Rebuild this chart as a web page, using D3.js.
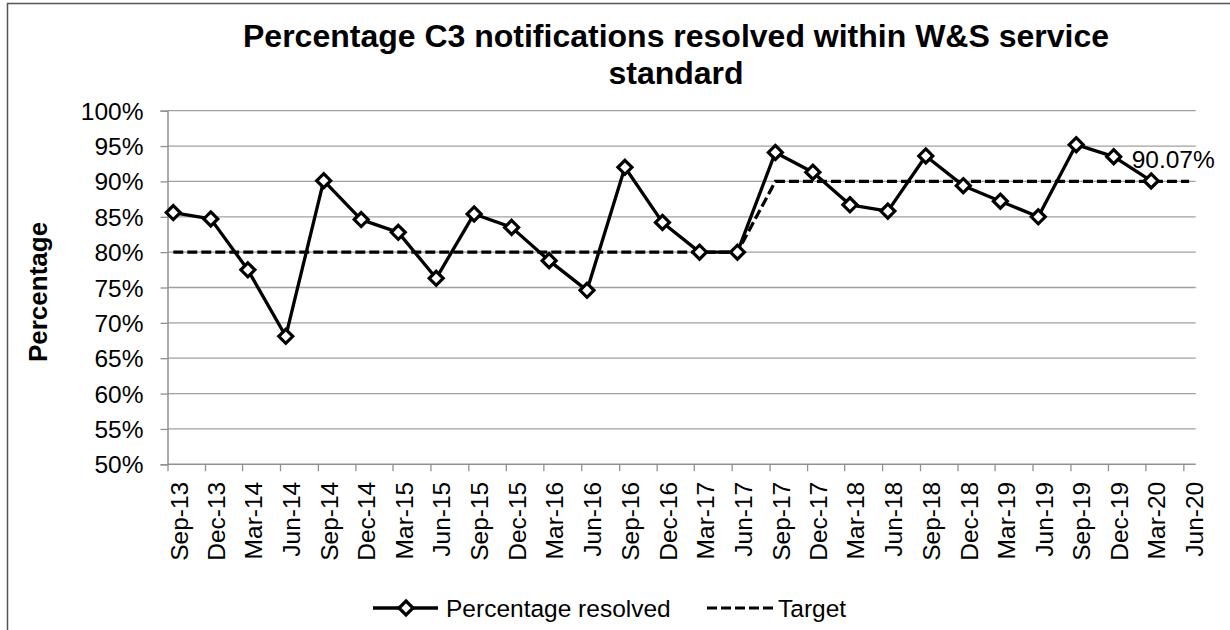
<!DOCTYPE html>
<html>
<head>
<meta charset="utf-8">
<script src="https://cdn.jsdelivr.net/npm/d3@7"></script>
<style>
  body { margin: 0; background: #fff; }
  svg { display: block; font-family: "Liberation Sans", Arial, sans-serif; }
</style>
</head>
<body>
<div id="chart"></div>
<script>
// quarter labels on the x axis
const categories = ["Sep-13","Dec-13","Mar-14","Jun-14","Sep-14","Dec-14","Mar-15","Jun-15",
  "Sep-15","Dec-15","Mar-16","Jun-16","Sep-16","Dec-16","Mar-17","Jun-17","Sep-17","Dec-17",
  "Mar-18","Jun-18","Sep-18","Dec-18","Mar-19","Jun-19","Sep-19","Dec-19","Mar-20","Jun-20"];
// percentage resolved (no value yet for Jun-20)
const resolved = [85.6, 84.7, 77.5, 68.1, 90.1, 84.6, 82.8, 76.3, 85.4, 83.5, 78.8, 74.6, 92.0, 84.2,
  80.0, 80.0, 94.1, 91.3, 86.7, 85.8, 93.6, 89.4, 87.2, 85.0, 95.2, 93.5, 90.07];
const target = [80, 80, 80, 80, 80, 80, 80, 80, 80, 80, 80, 80, 80, 80, 80, 80,
  90, 90, 90, 90, 90, 90, 90, 90, 90, 90, 90, 90];
const yTicks = [50, 55, 60, 65, 70, 75, 80, 85, 90, 95, 100];

const width = 1230, height = 630;
const svg = d3.select("#chart").append("svg")
  .attr("width", width).attr("height", height);

// outer chart border (only left and top edges are inside the picture)
svg.append("rect")
  .attr("x", 7.5).attr("y", 3.5).attr("width", 1400).attr("height", 800)
  .attr("fill", "none").attr("stroke", "#555").attr("stroke-width", 1.5);

const parse = d3.timeParse("%b-%y");
const tickDates = categories.map(parse);
// points sit mid-month, like the source
const pointDates = tickDates.map(d => d3.timeDay.offset(d, 14));

const x = d3.scaleTime()
  .domain([tickDates[0], d3.timeMonth.offset(tickDates[tickDates.length - 1], 1)])
  .range([167.5, 1195.7]);
const y = d3.scaleLinear().domain([50, 100]).range([464.3, 110.7]);

const fontSize = 24.5;

// gridlines
svg.append("g")
  .selectAll("line")
  .data(yTicks.slice(1))
  .join("line")
  .attr("x1", x.range()[0]).attr("x2", x.range()[1])
  .attr("y1", d => y(d)).attr("y2", d => y(d))
  .attr("stroke", "#a0a0a0").attr("stroke-width", 1.3);

// y axis
const yAxis = svg.append("g")
  .attr("transform", `translate(${x.range()[0]},0)`)
  .call(d3.axisLeft(y).tickValues(yTicks).tickSize(7).tickPadding(17)
    .tickFormat(d => d + "%"));
yAxis.select(".domain").attr("stroke", "#909090").attr("stroke-width", 1.5);
yAxis.selectAll(".tick line").attr("stroke", "#909090").attr("stroke-width", 1.3);
yAxis.selectAll(".tick text")
  .attr("font-size", fontSize).attr("fill", "#000")
  .attr("font-family", "Liberation Sans, Arial, sans-serif")
  .attr("dy", "0.35em");

// x axis
const xAxis = svg.append("g")
  .attr("transform", `translate(0,${y.range()[0]})`)
  .call(d3.axisBottom(x).tickValues(tickDates).tickSize(7)
    .tickFormat((d, i) => categories[i]));
xAxis.select(".domain").attr("stroke", "#909090").attr("stroke-width", 1.5)
  .attr("d", `M${x.range()[0]},0H${x.range()[1]}`);
xAxis.selectAll(".tick line").attr("stroke", "#909090").attr("stroke-width", 1.3);
xAxis.selectAll(".tick text")
  .attr("font-size", fontSize).attr("fill", "#000")
  .attr("font-family", "Liberation Sans, Arial, sans-serif")
  .attr("text-anchor", "end")
  .attr("dy", null)
  .attr("y", 0)
  .attr("transform", "translate(19.5,17.5) rotate(-90)");

// target line (dashed)
const targetLine = d3.line()
  .x((d, i) => x(pointDates[i]))
  .y(d => y(d));
svg.append("path")
  .datum(target)
  .attr("d", targetLine)
  .attr("fill", "none").attr("stroke", "#000")
  .attr("stroke-width", 3.2).attr("stroke-dasharray", "10,4");

// percentage resolved line
const resLine = d3.line()
  .x((d, i) => x(pointDates[i]))
  .y(d => y(d));
svg.append("path")
  .datum(resolved)
  .attr("d", resLine)
  .attr("fill", "none").attr("stroke", "#000")
  .attr("stroke-width", 3.3).attr("stroke-linejoin", "round");

const diamond = d3.symbol().type(d3.symbolDiamond2).size(125);
svg.append("g")
  .selectAll("path")
  .data(resolved)
  .join("path")
  .attr("d", diamond)
  .attr("transform", (d, i) => `translate(${x(pointDates[i])},${y(d)})`)
  .attr("fill", "#fff").attr("stroke", "#000").attr("stroke-width", 3.2);

// data label on the last point
const last = resolved.length - 1;
svg.append("text")
  .attr("x", x(pointDates[last]) - 19.5)
  .attr("y", y(resolved[last]) - 12.5)
  .attr("font-size", fontSize)
  .text(resolved[last].toFixed(2) + "%");

// title
const title = svg.append("text")
  .attr("text-anchor", "middle")
  .attr("font-size", 32).attr("font-weight", "bold");
title.append("tspan").attr("x", 676).attr("y", 46.7)
  .text("Percentage C3 notifications resolved within W&S service");
title.append("tspan").attr("x", 676).attr("y", 84)
  .text("standard");

// y axis title
svg.append("text")
  .attr("transform", "translate(46.5,292) rotate(-90)")
  .attr("text-anchor", "middle")
  .attr("font-size", 26).attr("font-weight", "bold")
  .text("Percentage");

// legend
const legend = svg.append("g").attr("transform", "translate(0,608)");
legend.append("line")
  .attr("x1", 373).attr("x2", 438).attr("y1", 0).attr("y2", 0)
  .attr("stroke", "#000").attr("stroke-width", 3.3);
legend.append("path")
  .attr("d", diamond)
  .attr("transform", "translate(406,0)")
  .attr("fill", "#fff").attr("stroke", "#000").attr("stroke-width", 3.2);
legend.append("text")
  .attr("x", 446).attr("y", 0).attr("dy", "0.35em")
  .attr("font-size", fontSize)
  .text("Percentage resolved");
legend.append("line")
  .attr("x1", 707).attr("x2", 773).attr("y1", 0).attr("y2", 0)
  .attr("stroke", "#000").attr("stroke-width", 3.2).attr("stroke-dasharray", "10,4");
legend.append("text")
  .attr("x", 778).attr("y", 0).attr("dy", "0.35em")
  .attr("font-size", fontSize)
  .text("Target");
</script>
</body>
</html>
